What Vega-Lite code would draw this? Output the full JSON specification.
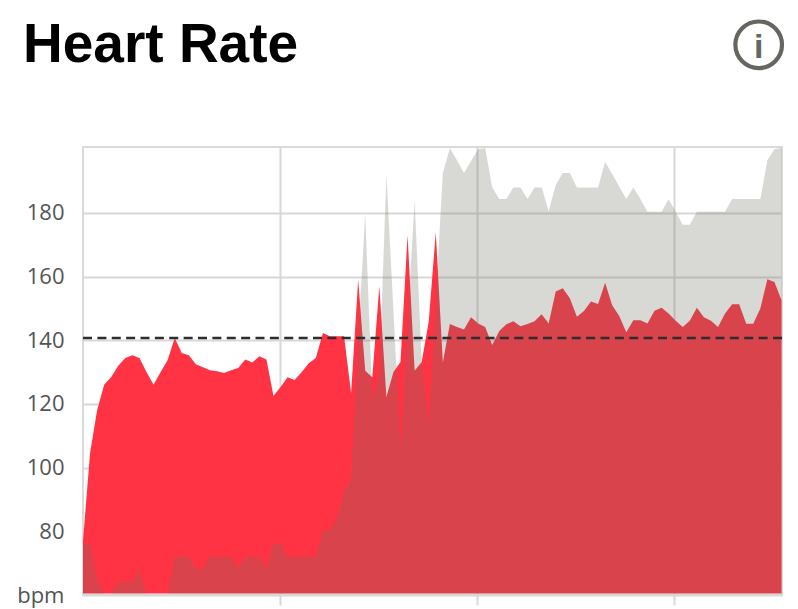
{"$schema":"https://vega.github.io/schema/vega-lite/v6.json","width":699,"height":448,"autosize":{"type":"none"},"padding":{"left":83,"top":147,"right":16,"bottom":14},"background":"white","config":{"view":{"stroke":"#dadada","strokeWidth":2}},"title":{"text":"Heart Rate","anchor":"start","frame":"group","dx":-60,"dy":61,"offset":-43,"baseline":"alphabetic","font":"Liberation Sans","fontWeight":"bold","fontSize":55,"color":"#000000"},"datasets":{"hr":[{"t":0,"hr":77,"ref":76},{"t":2.15,"hr":104.5,"ref":76},{"t":4.3,"hr":118,"ref":65},{"t":6.45,"hr":126,"ref":60.5},{"t":8.6,"hr":128.5,"ref":60.5},{"t":10.75,"hr":132,"ref":64},{"t":12.9,"hr":134.4,"ref":64},{"t":15.05,"hr":135.3,"ref":64.3},{"t":17.2,"hr":134.4,"ref":67.7},{"t":19.35,"hr":130,"ref":60.5},{"t":21.5,"hr":126,"ref":60.5},{"t":23.65,"hr":130,"ref":60.5},{"t":25.8,"hr":133.8,"ref":60.5},{"t":27.95,"hr":140.7,"ref":72},{"t":30.1,"hr":136,"ref":72},{"t":32.25,"hr":135.3,"ref":72},{"t":34.4,"hr":132.5,"ref":68.3},{"t":36.55,"hr":131.5,"ref":68.3},{"t":38.7,"hr":130.6,"ref":72},{"t":40.85,"hr":130.3,"ref":72},{"t":43,"hr":129.7,"ref":72},{"t":45.15,"hr":130.6,"ref":72},{"t":47.3,"hr":131.3,"ref":68.3},{"t":49.45,"hr":134,"ref":72},{"t":51.6,"hr":133,"ref":72},{"t":53.75,"hr":135,"ref":72},{"t":55.9,"hr":134,"ref":68.3},{"t":58.05,"hr":122.5,"ref":76.2},{"t":60.2,"hr":125.3,"ref":76.2},{"t":62.35,"hr":128.4,"ref":72},{"t":64.5,"hr":127.5,"ref":72},{"t":66.65,"hr":130,"ref":72},{"t":68.8,"hr":132.8,"ref":72},{"t":70.95,"hr":134.4,"ref":72},{"t":73.1,"hr":142.3,"ref":80},{"t":75.25,"hr":141.3,"ref":80.6},{"t":77.4,"hr":141.3,"ref":84},{"t":79.55,"hr":141.3,"ref":92.3},{"t":81.7,"hr":123.4,"ref":96.7},{"t":83.85,"hr":159,"ref":140},{"t":86,"hr":130.4,"ref":180},{"t":88.15,"hr":128.4,"ref":121.2},{"t":90.3,"hr":157,"ref":129},{"t":92.45,"hr":122.2,"ref":192},{"t":94.6,"hr":130,"ref":149},{"t":96.75,"hr":133.2,"ref":105.5},{"t":98.9,"hr":173,"ref":145},{"t":101.05,"hr":130.4,"ref":184},{"t":103.2,"hr":133.2,"ref":133},{"t":105.35,"hr":145.8,"ref":113.3},{"t":107.5,"hr":174,"ref":153},{"t":109.65,"hr":133,"ref":192.5},{"t":111.8,"hr":145.1,"ref":200.3},{"t":113.95,"hr":144.2,"ref":196.5},{"t":116.1,"hr":143.4,"ref":192.5},{"t":118.25,"hr":147.2,"ref":196.3},{"t":120.4,"hr":145.3,"ref":200},{"t":122.55,"hr":144.2,"ref":200.4},{"t":124.7,"hr":138.5,"ref":188},{"t":126.85,"hr":142.9,"ref":184.4},{"t":129,"hr":145,"ref":184.4},{"t":131.15,"hr":146,"ref":188},{"t":133.3,"hr":144.4,"ref":188},{"t":135.45,"hr":145.1,"ref":184.4},{"t":137.6,"hr":146,"ref":188},{"t":139.75,"hr":148.2,"ref":188},{"t":141.9,"hr":145.3,"ref":180.6},{"t":144.05,"hr":155.3,"ref":188.8},{"t":146.2,"hr":156.3,"ref":192.5},{"t":148.35,"hr":153.2,"ref":192.5},{"t":150.5,"hr":147.4,"ref":188},{"t":152.65,"hr":149.2,"ref":188},{"t":154.8,"hr":152.2,"ref":188},{"t":156.95,"hr":151.4,"ref":188},{"t":159.1,"hr":158.1,"ref":196},{"t":161.25,"hr":151,"ref":192.2},{"t":163.4,"hr":147.6,"ref":188.3},{"t":165.55,"hr":142.5,"ref":184.4},{"t":167.7,"hr":146.3,"ref":188},{"t":169.85,"hr":146.3,"ref":184.4},{"t":172,"hr":145.3,"ref":180.4},{"t":174.15,"hr":149.3,"ref":180.4},{"t":176.3,"hr":150.2,"ref":180.4},{"t":178.45,"hr":148.4,"ref":184.3},{"t":180.6,"hr":146.1,"ref":180.4},{"t":182.75,"hr":144.2,"ref":176.3},{"t":184.9,"hr":146.1,"ref":176.3},{"t":187.05,"hr":150.2,"ref":180.4},{"t":189.2,"hr":147.2,"ref":180.4},{"t":191.35,"hr":146.1,"ref":180.4},{"t":193.5,"hr":144.2,"ref":180.4},{"t":195.65,"hr":148.4,"ref":180.4},{"t":197.8,"hr":151.3,"ref":184.4},{"t":199.95,"hr":151.3,"ref":184.4},{"t":202.1,"hr":145.2,"ref":184.4},{"t":204.25,"hr":145.2,"ref":184.4},{"t":206.4,"hr":150,"ref":184.4},{"t":208.55,"hr":159.2,"ref":196.5},{"t":210.7,"hr":158.3,"ref":200},{"t":212.85,"hr":152.6,"ref":200.5}]},"layer":[{"data":{"name":"hr"},"mark":{"type":"area","color":"#ff3344","interpolate":"linear"},"encoding":{"x":{"field":"t","type":"quantitative","scale":{"domain":[0,213],"nice":false,"zero":false},"axis":{"title":null,"values":[60,120,180],"labels":false,"domain":false,"grid":true,"gridColor":"#d8d8d8","gridWidth":2,"tickColor":"#d8d8d8","tickWidth":2,"tickSize":10}},"y":{"field":"hr","type":"quantitative","scale":{"domain":[60,200.7],"nice":false,"zero":false},"axis":{"title":null,"values":[60,80,100,120,140,160,180],"labelExpr":"datum.value<70?'bpm':datum.label","domain":false,"ticks":false,"grid":true,"gridColor":"#d8d8d8","gridWidth":2,"labelFont":"Open Sans","labelFontSize":22,"labelColor":"#555555","labelPadding":19}},"y2":{"datum":60.5}}},{"data":{"name":"hr"},"mark":{"type":"area","color":"#706e64","opacity":0.27,"interpolate":"linear"},"encoding":{"x":{"field":"t","type":"quantitative"},"y":{"field":"ref","type":"quantitative"},"y2":{"datum":60.5}}},{"data":{"values":[{"threshold":140.7}]},"mark":{"type":"rule","color":"#2e2e2e","strokeWidth":2.4,"strokeDash":[9,5.375]},"encoding":{"y":{"field":"threshold","type":"quantitative"}}},{"data":{"values":[{"t":205.9,"bpm":232.8}]},"mark":{"type":"point","shape":"circle","filled":false,"size":2172,"stroke":"#666660","strokeWidth":4.2,"opacity":1},"encoding":{"x":{"field":"t","type":"quantitative"},"y":{"field":"bpm","type":"quantitative"}}},{"data":{"values":[{"t":205.9,"bpm":228.7,"label":"i"}]},"mark":{"type":"text","font":"Liberation Sans","fontWeight":"bold","fontSize":34,"color":"#666660","align":"center","baseline":"alphabetic"},"encoding":{"x":{"field":"t","type":"quantitative"},"y":{"field":"bpm","type":"quantitative"},"text":{"field":"label"}}}]}
